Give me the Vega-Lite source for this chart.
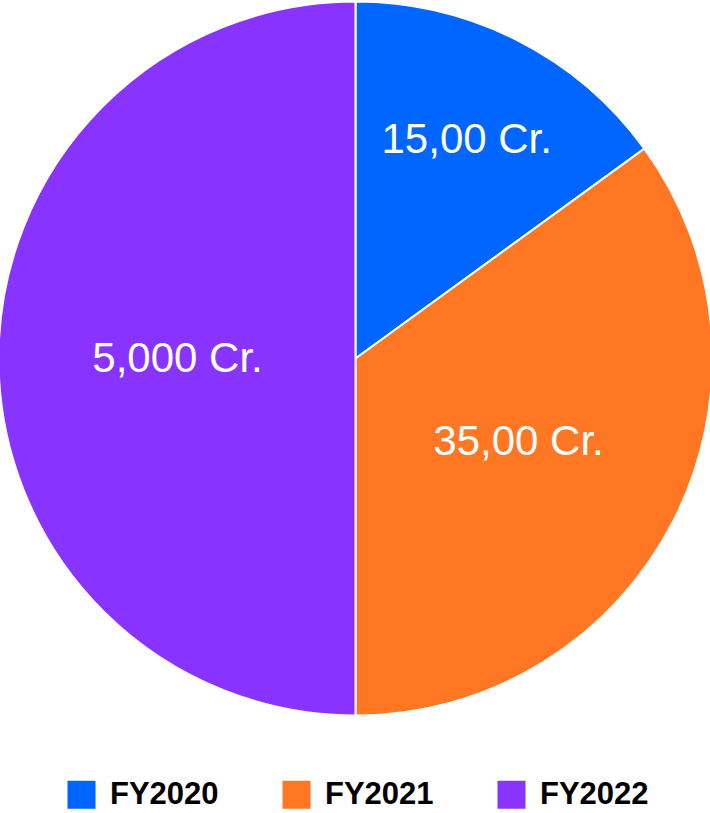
{
  "$schema": "https://vega.github.io/schema/vega-lite/v6.json",
  "width": 711,
  "height": 717,
  "autosize": {"type": "none"},
  "padding": {"left": 0, "top": 0, "right": 0, "bottom": 96},
  "background": "white",
  "data": {
    "values": [
      {"year": "FY2020", "value": 1500, "label": "15,00 Cr."},
      {"year": "FY2021", "value": 3500, "label": "35,00 Cr."},
      {"year": "FY2022", "value": 5000, "label": "5,000 Cr."}
    ]
  },
  "encoding": {
    "theta": {"field": "value", "type": "quantitative", "stack": true},
    "order": {"field": "year", "sort": "ascending"},
    "color": {
      "field": "year",
      "type": "nominal",
      "scale": {"domain": ["FY2020", "FY2021", "FY2022"], "range": ["#0066ff", "#ff7722", "#8833ff"]},
      "legend": {
        "title": null,
        "orient": "none",
        "legendX": 66,
        "legendY": 779,
        "direction": "horizontal",
        "symbolType": "square",
        "symbolSize": 784,
        "symbolStrokeWidth": 0,
        "symbolOpacity": 1,
        "labelFont": "Liberation Sans",
        "labelFontSize": 31,
        "labelFontWeight": "bold",
        "labelColor": "black",
        "labelOffset": 13,
        "columnPadding": 62
      }
    }
  },
  "layer": [
    {
      "mark": {"type": "arc", "outerRadius": 357, "stroke": "white", "strokeWidth": 2}
    },
    {
      "mark": {"type": "text", "radius": 245, "font": "Liberation Sans", "fontSize": 42, "align": "center", "baseline": "middle"},
      "encoding": {
        "color": {"value": "white"},
        "text": {"condition": {"test": "datum.year === 'FY2020'", "field": "label"}, "value": ""}
      }
    },
    {
      "mark": {"type": "text", "radius": 183, "font": "Liberation Sans", "fontSize": 42, "align": "center", "baseline": "middle"},
      "encoding": {
        "color": {"value": "white"},
        "text": {"condition": {"test": "datum.year === 'FY2021'", "field": "label"}, "value": ""}
      }
    },
    {
      "mark": {"type": "text", "radius": 178, "font": "Liberation Sans", "fontSize": 42, "align": "center", "baseline": "middle"},
      "encoding": {
        "color": {"value": "white"},
        "text": {"condition": {"test": "datum.year === 'FY2022'", "field": "label"}, "value": ""}
      }
    }
  ],
  "config": {"view": {"stroke": null}}
}
